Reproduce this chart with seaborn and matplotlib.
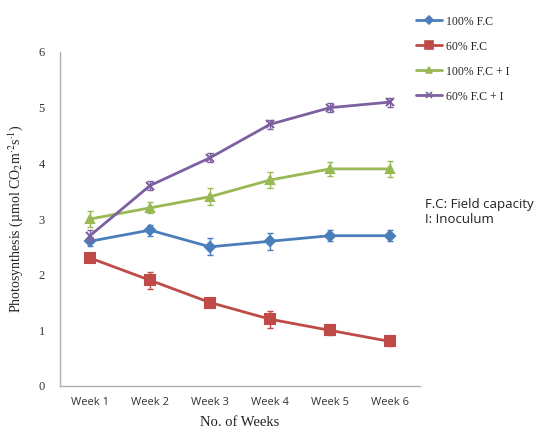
import matplotlib
matplotlib.use("Agg")
import matplotlib.pyplot as plt
import seaborn as sns
import pandas as pd
import numpy as np
from matplotlib.lines import Line2D

weeks = ["Week 1", "Week 2", "Week 3", "Week 4", "Week 5", "Week 6"]
series_names = ["100% F.C", "60% F.C", "100% F.C + I", "60% F.C + I"]
fc100 = [2.6, 2.8, 2.5, 2.6, 2.7, 2.7]
fc100_err = [0.08, 0.1, 0.15, 0.15, 0.1, 0.1]
fc60 = [2.3, 1.9, 1.5, 1.2, 1.0, 0.8]
fc60_err = [0.08, 0.15, 0.08, 0.15, 0.08, 0.08]
fc100i = [3.0, 3.2, 3.4, 3.7, 3.9, 3.9]
fc100i_err = [0.15, 0.1, 0.15, 0.15, 0.12, 0.15]
fc60i = [2.7, 3.6, 4.1, 4.7, 5.0, 5.1]
fc60i_err = [0.1, 0.08, 0.08, 0.08, 0.08, 0.08]

values = [fc100, fc60, fc100i, fc60i]
errors = [fc100_err, fc60_err, fc100i_err, fc60i_err]
colors = ["#4A7EBB", "#BE4B48", "#98B954", "#7D60A0"]
markers = ["D", "s", "^", "x"]
msizes = [5, 7, 6, 6]

sns.set_style("white")
plt.rcParams["font.family"] = ["Liberation Serif", "DejaVu Serif"]
plt.rcParams["mathtext.fontset"] = "stix"

rows = []
for name, vals in zip(series_names, values):
    for i, v in enumerate(vals):
        rows.append({"series": name, "pos": i, "value": v})
df = pd.DataFrame(rows)

fig = plt.figure(figsize=(5.56, 4.33), dpi=100)
ax = fig.add_axes([60 / 556, 1 - 386 / 433, 360 / 556, 334 / 433])

for name, vals, errs, c, m, ms in zip(series_names, values, errors, colors, markers, msizes):
    sub = df[df["series"] == name]
    sns.lineplot(data=sub, x="pos", y="value", ax=ax, color=c, linewidth=2,
                 marker=m, markersize=ms, markeredgecolor=c, markeredgewidth=1.5, legend=False)
    ax.errorbar(range(len(vals)), vals, yerr=errs, fmt="none", ecolor=c,
                elinewidth=1, capsize=2.5, capthick=1)

ax.set_xlim(-0.5, 5.5)
ax.set_ylim(0, 6)
ax.set_xticks(range(6))
ax.set_xticklabels(weeks, family=["Open Sans", "DejaVu Sans"], fontsize=8, color="#333333")
ax.set_xticks(np.arange(-0.5, 6, 1), minor=True)
ax.tick_params(axis="x", which="major", length=0, pad=8)
ax.tick_params(axis="x", which="minor", length=3, color="#b0b0b0", direction="out")
ax.set_yticks(range(7))
ax.set_yticklabels([str(i) for i in range(7)], fontsize=9, color="#333333")
ax.tick_params(axis="y", length=3, color="#b0b0b0", direction="out", pad=8)
for s in ["top", "right"]:
    ax.spines[s].set_visible(False)
for s in ["left", "bottom"]:
    ax.spines[s].set_color("#b0b0b0")
    ax.spines[s].set_linewidth(1)

ax.set_xlabel("No. of Weeks", fontsize=10.5, labelpad=6, color="#222222")
ax.set_ylabel("Photosynthesis (µmol CO$_2$m$^{\\cdot 2}$s$^{\\cdot 1}$)", fontsize=10, labelpad=10, color="#222222")

handles = [Line2D([0], [0], color=c, marker=m, markersize=ms - 1, linewidth=2,
                  markeredgecolor=c, markeredgewidth=1.2)
           for c, m, ms in zip(colors, markers, msizes)]
fig.legend(handles, series_names, loc="upper left", bbox_to_anchor=(405 / 556, 1 - 5 / 433),
           frameon=False, fontsize=8.5, handlelength=2.2, labelspacing=1.1, handletextpad=0.4)

fig.text(425 / 556, 1 - 212 / 433, "F.C: Field capacity\nI: Inoculum",
         family=["Open Sans", "DejaVu Sans"], fontsize=9.5, va="center", ha="left",
         color="#222222", linespacing=1.2)

fig.savefig("out.png", dpi=100)
